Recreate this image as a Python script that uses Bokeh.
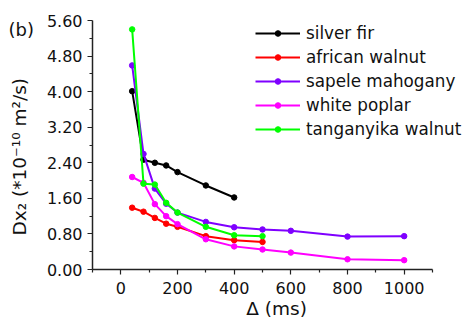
from bokeh.plotting import figure
from bokeh.models import FixedTicker, PrintfTickFormatter, Legend, LegendItem, Range1d
from bokeh.embed import file_html
from bokeh.resources import INLINE

# ---- data ----
fir_x = [40, 80, 120, 160, 200, 300, 400]
fir_y = [4.01, 2.47, 2.40, 2.34, 2.19, 1.89, 1.62]

afw_x = [40, 80, 120, 160, 200, 300, 400, 500]
afw_y = [1.39, 1.30, 1.16, 1.03, 0.96, 0.75, 0.66, 0.62]

sap_x = [40, 80, 120, 160, 200, 300, 400, 500, 600, 800, 1000]
sap_y = [4.59, 2.60, 1.82, 1.48, 1.28, 1.07, 0.95, 0.90, 0.87, 0.74, 0.75]

pop_x = [40, 80, 120, 160, 200, 300, 400, 500, 600, 800, 1000]
pop_y = [2.08, 1.95, 1.47, 1.20, 1.02, 0.68, 0.52, 0.45, 0.38, 0.23, 0.21]

tan_x = [40, 80, 120, 160, 200, 300, 400, 500]
tan_y = [5.40, 1.93, 1.91, 1.50, 1.28, 0.96, 0.77, 0.75]

series_names = ["silver fir", "african walnut", "sapele mahogany", "white poplar", "tanganyika walnut"]
series_colors = ["#000000", "#ff0000", "#7f00ff", "#ff00ff", "#00ff00"]
series_data = [(fir_x, fir_y), (afw_x, afw_y), (sap_x, sap_y), (pop_x, pop_y), (tan_x, tan_y)]

x_major = [0, 200, 400, 600, 800, 1000]
x_minor = [-100, 100, 300, 500, 700, 900, 1100]
y_major = [0.0, 0.8, 1.6, 2.4, 3.2, 4.0, 4.8, 5.6]
y_minor = [0.4, 1.2, 2.0, 2.8, 3.6, 4.4, 5.2]

NB = "\u00a0"
panel_tag = "(b)"
y_title = "Dx₂ (*10⁻¹⁰ m²/s)"
x_title = "Δ (ms)"

FONT = "DejaVu Sans"
TXT = "#111111"

p = figure(width=466, height=322, output_backend="svg", toolbar_location=None,
           x_range=Range1d(-100, 1220), y_range=Range1d(0, 5.6),
           min_border_left=92, min_border_right=0, min_border_top=20, min_border_bottom=53)
p.outline_line_color = None
p.xgrid.visible = False
p.ygrid.visible = False
p.background_fill_color = "white"
p.border_fill_color = "white"

items = []
for name, col, (xs, ys) in zip(series_names, series_colors, series_data):
    r1 = p.line(xs, ys, line_color=col, line_width=2)
    r2 = p.scatter(xs, ys, marker="circle", size=5.5, fill_color=col, line_color=col)
    items.append(LegendItem(label=name, renderers=[r1, r2]))

legend = Legend(items=items, location=(163, 128), padding=0, margin=0,
                border_line_color=None, background_fill_alpha=0,
                glyph_width=45, glyph_height=14, label_height=24, spacing=0,
                label_standoff=6, label_text_font=FONT, label_text_font_size="16.8px",
                label_text_color=TXT)
p.add_layout(legend, "center")

for ax in (p.xaxis[0], p.yaxis[0]):
    ax.axis_line_width = 1.5
    ax.axis_line_color = "#222222"
    ax.major_tick_line_color = "#222222"
    ax.minor_tick_line_color = "#222222"
    ax.major_tick_line_width = 1.2
    ax.minor_tick_line_width = 1.2
    ax.major_tick_in = 0
    ax.major_tick_out = 5
    ax.minor_tick_in = 0
    ax.minor_tick_out = 3
    ax.major_label_text_font = FONT
    ax.major_label_text_font_size = "16px"
    ax.major_label_text_color = TXT
    ax.axis_label_text_font = FONT
    ax.axis_label_text_font_style = "normal"
    ax.axis_label_text_color = TXT

xa = p.xaxis[0]
xa.ticker = FixedTicker(ticks=x_major, minor_ticks=x_minor)
xa.bounds = (-100, 1100)
xa.major_label_standoff = 7
xa.axis_label = x_title + NB
xa.axis_label_text_font_size = "18.5px"
xa.axis_label_standoff = 1

ya = p.yaxis[0]
ya.ticker = FixedTicker(ticks=y_major, minor_ticks=y_minor)
ya.formatter = PrintfTickFormatter(format="%.2f")
ya.major_label_standoff = 5
ya.axis_label = y_title + NB * 4
ya.axis_label_text_font_size = "18.5px"
ya.axis_label_standoff = 14

p.title.text = panel_tag
p.title.text_font = FONT
p.title.text_font_size = "18px"
p.title.text_font_style = "normal"
p.title.text_color = TXT
p.title.align = "left"
p.title.vertical_align = "bottom"
p.title.offset = -84
p.title.standoff = -38

open("out.html", "w").write(file_html(p, INLINE))
